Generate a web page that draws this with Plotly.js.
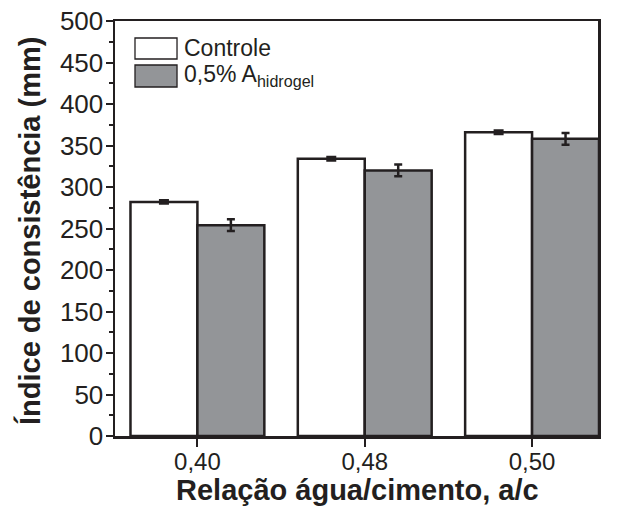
<!DOCTYPE html>
<html>
<head>
<meta charset="utf-8">
<script src="https://cdn.plot.ly/plotly-3.0.1.min.js"></script>
<style>html,body{margin:0;padding:0;background:#fff;}#chart{width:617px;height:506px;}</style>
</head>
<body>
<div id="chart"></div>
<script>
const categories = ["0,40", "0,48", "0,50"];
const controleValues = [282, 334, 366];
const controleErrors = [2, 2, 2];
const hidrogelValues = [254, 320, 358];
const hidrogelErrors = [7, 7, 7];
const yTickValues = [0, 50, 100, 150, 200, 250, 300, 350, 400, 450, 500];

const ink = "#231f20";
const grayFill = "#939598";
const fontFam = "Arial, 'Liberation Sans', Helvetica, sans-serif";
const xIdx = categories.map((c, i) => i);

const traces = [
  {
    type: "bar", x: xIdx, y: controleValues, name: "Controle",
    width: 0.4, offset: -0.4,
    marker: {color: "#ffffff", line: {color: ink, width: 2.5}},
    error_y: {type: "data", array: controleErrors, visible: true, color: ink, thickness: 2.5, width: 5}
  },
  {
    type: "bar", x: xIdx, y: hidrogelValues, name: "0,5% A<sub>hidrogel</sub>",
    width: 0.4, offset: 0,
    marker: {color: grayFill, line: {color: ink, width: 2.5}},
    error_y: {type: "data", array: hidrogelErrors, visible: true, color: ink, thickness: 2.5, width: 4}
  }
];

const layout = {
  width: 617, height: 506,
  margin: {l: 115, r: 19, t: 21, b: 70},
  paper_bgcolor: "#ffffff", plot_bgcolor: "#ffffff",
  showlegend: false,
  barmode: "overlay",
  font: {family: fontFam, color: ink},
  xaxis: {
    range: [-0.4925, 2.394],
    tickvals: xIdx, ticktext: categories,
    ticks: "outside", ticklen: 8, tickwidth: 2, tickcolor: ink,
    ticklabelstandoff: -5,
    showline: true, linecolor: ink, linewidth: 2.5, mirror: true,
    showgrid: false, zeroline: false,
    tickfont: {size: 24, color: ink, family: fontFam}
  },
  yaxis: {
    range: [0, 500],
    tickvals: yTickValues,
    ticks: "outside", ticklen: 7, tickwidth: 2, tickcolor: ink,
    ticklabelstandoff: -3,
    minor: {dtick: 25, ticks: "outside", ticklen: 4, tickwidth: 2, tickcolor: ink, showgrid: false},
    showline: true, linecolor: ink, linewidth: 2.5, mirror: true,
    showgrid: false, zeroline: false,
    tickfont: {size: 26, color: ink, family: fontFam}
  },
  shapes: [
    {type: "rect", xref: "paper", yref: "paper", x0: 0.0414, x1: 0.1284, y0: 0.9084, y1: 0.959,
     fillcolor: "#ffffff", line: {color: ink, width: 1.3}},
    {type: "rect", xref: "paper", yref: "paper", x0: 0.0414, x1: 0.1284, y0: 0.841, y1: 0.894,
     fillcolor: grayFill, line: {color: ink, width: 1.3}}
  ],
  annotations: [
    {xref: "paper", yref: "paper", x: 0.138, y: 0.934, xanchor: "left", yanchor: "middle",
     text: "Controle", showarrow: false, font: {size: 23, color: ink, family: fontFam}},
    {xref: "paper", yref: "paper", x: 0.138, y: 0.8675, xanchor: "left", yanchor: "middle",
     text: "0,5% A<sub>hidrogel</sub>", showarrow: false, font: {size: 23, color: ink, family: fontFam}},
    {xref: "paper", yref: "paper", x: 0.503, y: -0.13, xanchor: "center", yanchor: "middle",
     text: "<b>Relação água/cimento, a/c</b>", showarrow: false, font: {size: 29, color: ink, family: fontFam}},
    {xref: "paper", yref: "paper", x: -0.176, y: 0.494, xanchor: "center", yanchor: "middle", textangle: -90,
     text: "<b>Índice de consistência (mm)</b>", showarrow: false, font: {size: 29, color: ink, family: fontFam}}
  ]
};

Plotly.newPlot("chart", traces, layout, {displayModeBar: false, staticPlot: true});
</script>
</body>
</html>
